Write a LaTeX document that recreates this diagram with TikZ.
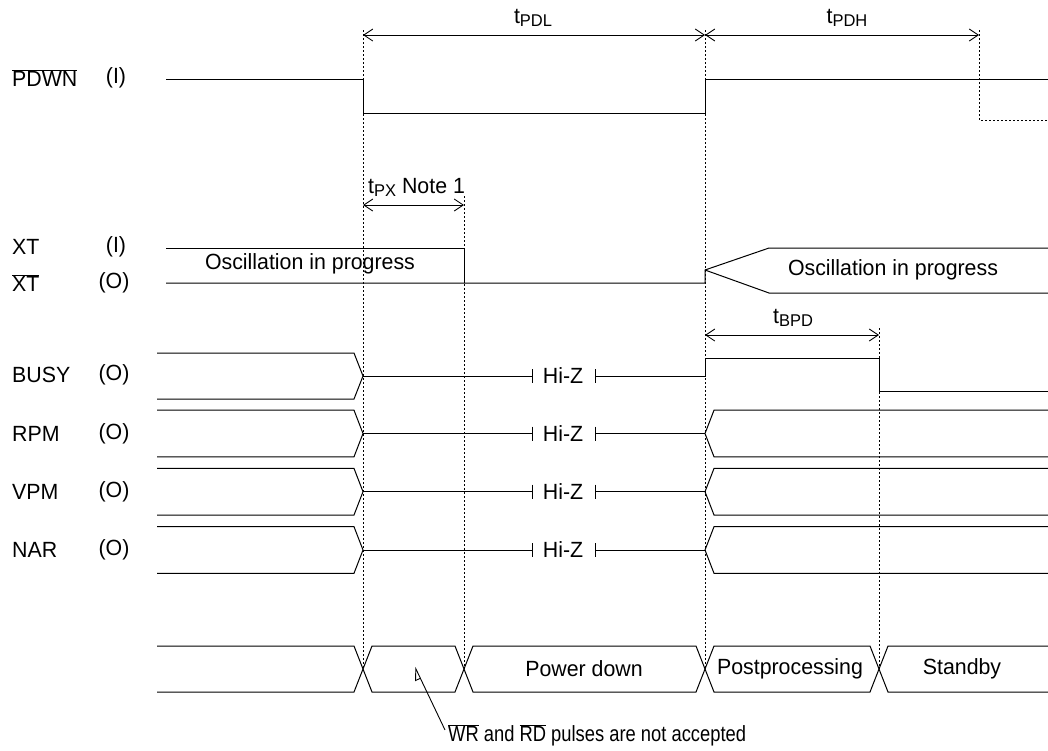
\documentclass[tikz,border=0pt]{standalone}
\usepackage{fontspec}
\usepackage{graphicx}
\setmainfont{Liberation Sans}[FakeStretch=0.97]
\usetikzlibrary{arrows.meta}
\newcommand\ovl[1]{$\overline{\mbox{#1}}$}
\newcommand\subt[1]{\raisebox{-3pt}{\fontsize{17}{17}\selectfont #1}}
\begin{document}
\begin{tikzpicture}[x=1pt,y=-1pt,
  sig/.style={line width=1pt, line join=miter},
  guide/.style={line width=0.9pt, dash pattern=on 2pt off 2pt},
  dim/.style={line width=0.9pt, {Straight Barb[length=9pt,width=12pt]}-{Straight Barb[length=9pt,width=12pt]}},
  lbl/.style={font=\fontsize{22}{26}\selectfont, inner sep=0pt},
  note/.style={line width=0.9pt, -{Triangle[open,left,length=12pt,width=12pt]}},
]
\useasboundingbox (0,0) rectangle (1048,750);

% guide lines
\draw[guide] (363,30) -- (363,669);
\draw[guide] (464,196) -- (464,669);
\draw[guide] (705,30) -- (705,669);
\draw[guide] (879,328) -- (879,669);
\draw[guide] (979,30) -- (979,120) -- (1048,120);

% dimension arrows
\draw[dim] (363,35) -- (705,35);
\draw[dim] (705,35) -- (979,35);
\draw[dim] (363,205) -- (464,205);
\draw[dim] (705,335) -- (879,335);
\node[lbl] (tpdl) at (533,18) {t\subt{PDL}};
\node[lbl] (tpdh) at (847,18) {t\subt{PDH}};
\node[lbl,anchor=west] (tpx) at (368,187) {t\subt{PX} Note 1};
\node[lbl] (tbpd) at (793,318) {t\subt{BPD}};

% left labels
\node[lbl,anchor=west] (lpdwn) at (12,78) {\ovl{PDWN}};
\node[lbl] (dpdwn) at (116,78) {(I)};
\node[lbl,anchor=west] (lxt) at (12,247) {XT};
\node[lbl] (dxt) at (116,247) {(I)};
\node[lbl,anchor=west] (lxtb) at (12,283) {\ovl{XT}};
\node[lbl] (dxtb) at (114,283) {(O)};
\node[lbl,anchor=west] (lbusy) at (12,375) {BUSY};
\node[lbl] (dbusy) at (114,375) {(O)};
\node[lbl,anchor=west] (lrpm) at (12,434) {RPM};
\node[lbl] (drpm) at (114,434) {(O)};
\node[lbl,anchor=west] (lvpm) at (12,492) {VPM};
\node[lbl] (dvpm) at (114,492) {(O)};
\node[lbl,anchor=west] (lnar) at (12,550) {NAR};
\node[lbl] (dnar) at (114,550) {(O)};

% PDWN
\draw[sig] (166,79) -- (363,79) -- (363,113) -- (705,113) -- (705,79) -- (1048,79);

% XT
\draw[sig] (166,248) -- (464,248) -- (464,283);
\draw[sig] (166,283) -- (705,283) -- (705,270) -- (769,248) -- (1048,248);
\draw[sig] (705,270) -- (769,293) -- (1048,293);
\node[lbl] (osc1) at (310,264) {Oscillation in progress};
\node[lbl] (osc2) at (893,270) {Oscillation in progress};

% BUSY
\draw[sig] (157,353) -- (354,353) -- (363,376) -- (354,399) -- (157,399);
\draw[sig] (363,376) -- (532,376) (532,369) -- (532,383);
\draw[sig] (595,369) -- (595,383) (595,376) -- (705,376) -- (705,358) -- (879,358) -- (879,391) -- (1048,391);
\node[lbl] (hz1) at (563,376) {Hi-Z};

% RPM, VPM, NAR
\foreach \m/\n in {433.5/hz2, 491.7/hz3, 550/hz4}{
  \draw[sig] (157,\m-23.3) -- (354,\m-23.3) -- (363,\m) -- (354,\m+23.3) -- (157,\m+23.3);
  \draw[sig] (363,\m) -- (532,\m) (532,\m-7) -- (532,\m+7);
  \draw[sig] (595,\m-7) -- (595,\m+7) (595,\m) -- (705,\m);
  \draw[sig] (1048,\m-23.3) -- (714,\m-23.3) -- (705,\m) -- (714,\m+23.3) -- (1048,\m+23.3);
  \node[lbl] (\n) at (563,\m) {Hi-Z};
}

% state bar
\draw[sig] (157,646) -- (354,646) -- (372,692) -- (455,692) -- (473,646) -- (696,646) -- (714,692) -- (870,692) -- (888,646) -- (1048,646);
\draw[sig] (157,692) -- (354,692) -- (372,646) -- (455,646) -- (473,692) -- (696,692) -- (714,646) -- (870,646) -- (888,692) -- (1048,692);
\node[lbl] (pd) at (584,669) {Power down};
\node[lbl] (pp) at (790,669) {Postprocessing};
\node[lbl] (sb) at (962,669) {Standby};

% note
\node[lbl,anchor=west] (notetxt) at (448,735) {\scalebox{0.86}[1]{\ovl{WR} and \ovl{RD} pulses are not accepted}};
\coordinate (tip) at (415,667);
\draw[note] ([shift={(-3,6)}]notetxt.north west) -- (tip);
\end{tikzpicture}
\end{document}
